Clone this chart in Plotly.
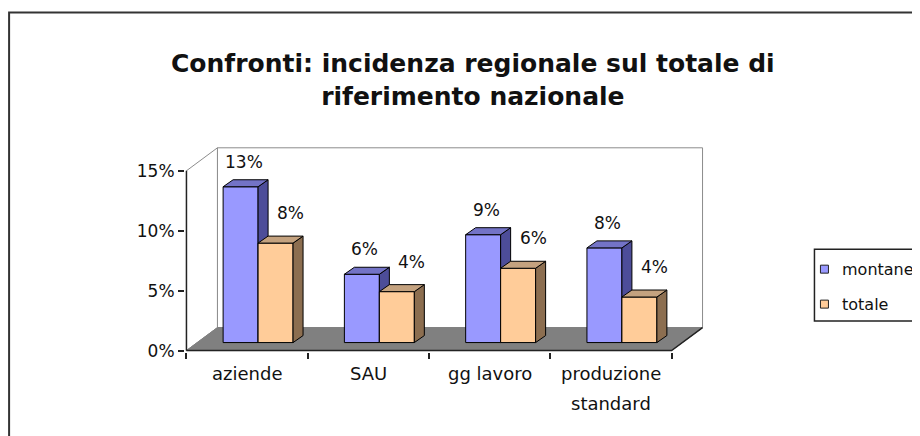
import plotly.graph_objects as go

# ---------------- data ----------------
categories = ["aziende", "SAU", "gg lavoro", "produzione<br>standard"]
series_names = ["montane", "totale"]
montane = [0.130, 0.057, 0.090, 0.079]
totale = [0.083, 0.0425, 0.062, 0.038]
y_tick_vals = [0.0, 0.05, 0.10, 0.15]
y_tick_text = ["0%", "5%", "10%", "15%"]
title_text = "<b>Confronti: incidenza regionale sul totale di<br>riferimento nazionale</b>"

# ---------------- styling / geometry (pixels, page coordinates) ----------------
PAGE_OFF = 8                          # default body margin of the html page
W, H = 920 - PAGE_OFF, 436 - PAGE_OFF
X0_PX, X4_PX = 186.5, 672.0           # front axis start / end (page px)
Y0_PX, Y15_PX = 350.5, 170.5          # 0% and 15% on front plane (page px)
PPX = (X4_PX - X0_PX) / 4.0
PPY = (Y0_PX - Y15_PX) / 0.15
FLOOR_D = (31, 23)                    # depth of the 3D box (px)
BAR_OFF = (11, 8)                     # bar placement depth (px)
BAR_D = (10, 7)                       # bar depth (px)
BAR_W = 35                            # bar width (px)
YMAX_WALL = 0.15

fdx, fdy = FLOOR_D[0] / PPX, FLOOR_D[1] / PPY
odx, ody = BAR_OFF[0] / PPX, BAR_OFF[1] / PPY
bdx, bdy = BAR_D[0] / PPX, BAR_D[1] / PPY
bw = BAR_W / PPX
ncat = len(categories)

xr = [-0.012, ncat + fdx + 0.012]
yr = [-0.0012, YMAX_WALL + fdy + 0.0015]
fx0 = X0_PX - PAGE_OFF
fy0 = Y0_PX - PAGE_OFF
ml = fx0 + xr[0] * PPX
mr = W - (fx0 + xr[1] * PPX)
mt = fy0 - yr[1] * PPY
mb = H - (fy0 - yr[0] * PPY)
plot_w = W - ml - mr
plot_h = H - mt - mb


def px2paper(px, py):
    """page pixel -> paper coords"""
    px -= PAGE_OFF
    py -= PAGE_OFF
    return (px - ml) / plot_w, (H - mb - py) / plot_h


colors = {
    "montane": {"front": "#9999FF", "side": "#4D4D99", "top": "#7373C6"},
    "totale": {"front": "#FFCC99", "side": "#8C6E50", "top": "#C4A27F"},
}
EDGE = "#000000"
WALL_EDGE = "#8C8C8C"
FONT = "DejaVu Sans"

fig = go.Figure()


def poly(xs, ys, fill, line_color, lw=1):
    fig.add_trace(go.Scatter(
        x=list(xs) + [xs[0]], y=list(ys) + [ys[0]], mode="lines",
        fill="toself", fillcolor=fill,
        line=dict(color=line_color, width=lw),
        hoverinfo="skip", showlegend=False))


# back wall
poly([fdx, fdx, ncat + fdx, ncat + fdx],
     [fdy, YMAX_WALL + fdy, YMAX_WALL + fdy, fdy], "#FFFFFF", WALL_EDGE)
# left wall
poly([0, 0, fdx, fdx], [0, YMAX_WALL, YMAX_WALL + fdy, fdy], "#FFFFFF", WALL_EDGE)
# floor
poly([0, ncat, ncat + fdx, fdx], [0, 0, fdy, fdy], "#808080", "#808080")
# floor right edge + front axis line (dark)
fig.add_trace(go.Scatter(x=[0, ncat, ncat + fdx], y=[0, 0, fdy], mode="lines",
                         line=dict(color="#222222", width=1.5),
                         hoverinfo="skip", showlegend=False))
# y axis line on front plane
fig.add_trace(go.Scatter(x=[0, 0], y=[0, YMAX_WALL], mode="lines",
                         line=dict(color="#222222", width=1.5),
                         hoverinfo="skip", showlegend=False))

# bars
annotations = []
for i, cat in enumerate(categories):
    center = i + 0.5 + odx
    for k, (name, vals) in enumerate(zip(series_names, [montane, totale])):
        v = vals[i]
        x0 = center - bw + k * bw
        x1 = x0 + bw
        y0 = ody
        y1 = ody + v
        c = colors[name]
        poly([x0, x1, x1, x0], [y0, y0, y1, y1], c["front"], EDGE)
        poly([x1, x1 + bdx, x1 + bdx, x1], [y0, y0 + bdy, y1 + bdy, y1], c["side"], EDGE)
        poly([x0, x1, x1 + bdx, x0 + bdx], [y1, y1, y1 + bdy, y1 + bdy], c["top"], EDGE)
        annotations.append(dict(
            x=(x0 + x1) / 2, y=y1, xref="x", yref="y",
            text=f"{v:.0%}", showarrow=False,
            xshift=3 if k == 0 else 15, yshift=25 if k == 0 else 30,
            xanchor="center", yanchor="middle",
            font=dict(family=FONT, size=17, color="#111111")))

# category labels (on front axis)
for i, cat in enumerate(categories):
    for j, line in enumerate(cat.split("<br>")):
        annotations.append(dict(
            x=i + 0.5, y=0, xref="x", yref="y", text=line, showarrow=False,
            xanchor="center", yanchor="middle", yshift=-23 - 30 * j,
            font=dict(family=FONT, size=18, color="#111111")))

# title
tx, ty = px2paper(473, 80)
annotations.append(dict(
    x=tx, y=ty, xref="paper", yref="paper", text=title_text, showarrow=False,
    xanchor="center", yanchor="middle",
    font=dict(family=FONT, size=25, color="#111111"), align="center"))

# legend (manual box)
shapes = []
lx0, ly0 = px2paper(815, 249)
lx1, ly1 = px2paper(940, 321)
shapes.append(dict(type="rect", xref="paper", yref="paper",
                   x0=lx0, x1=lx1, y0=ly1, y1=ly0,
                   line=dict(color="#222222", width=1.5), fillcolor="#FFFFFF"))
for k, (name, ypx) in enumerate(zip(series_names, [269, 304])):
    sx0, sy0 = px2paper(821, ypx - 4)
    sx1, sy1 = px2paper(829, ypx + 4)
    shapes.append(dict(type="rect", xref="paper", yref="paper",
                       x0=sx0, x1=sx1, y0=sy1, y1=sy0,
                       line=dict(color="#222222", width=1),
                       fillcolor=colors[name]["front"]))
    ax_, ay_ = px2paper(841, ypx)
    annotations.append(dict(
        x=ax_, y=ay_, xref="paper", yref="paper", text=name, showarrow=False,
        xanchor="left", yanchor="middle",
        font=dict(family=FONT, size=16, color="#111111")))

# outer chart border
bx0, by0 = px2paper(9, 12)
bx1, by1 = px2paper(960, 470)
shapes.append(dict(type="rect", xref="paper", yref="paper",
                   x0=bx0, x1=bx1, y0=by1, y1=by0,
                   line=dict(color="#333333", width=2)))

fig.update_layout(
    width=W, height=H,
    margin=dict(l=ml, r=mr, t=mt, b=mb, pad=0, autoexpand=False),
    paper_bgcolor="#FFFFFF", plot_bgcolor="rgba(0,0,0,0)",
    showlegend=False,
    annotations=annotations, shapes=shapes,
    xaxis=dict(range=xr, showgrid=False, zeroline=False, showline=False,
               tickmode="array", tickvals=list(range(ncat + 1)),
               showticklabels=False, ticks="outside", ticklen=6,
               tickcolor="#222222", tickwidth=1.5, fixedrange=True),
    yaxis=dict(range=yr, showgrid=False, zeroline=False, showline=False,
               tickmode="array", tickvals=y_tick_vals, ticktext=y_tick_text,
               ticks="outside", ticklen=6, tickcolor="#222222", tickwidth=1.5,
               tickfont=dict(family=FONT, size=17, color="#111111"),
               fixedrange=True),
    font=dict(family=FONT),
)

fig.write_html("out.html")
